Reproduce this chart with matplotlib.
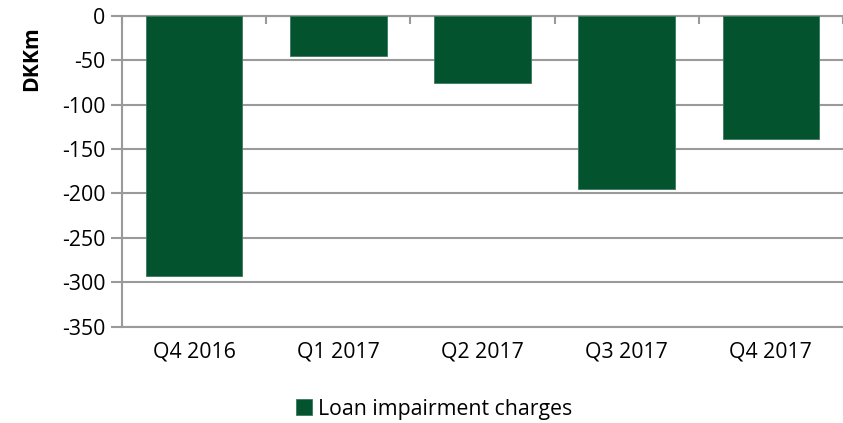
import matplotlib
matplotlib.use("Agg")
import matplotlib.pyplot as plt
import numpy as np

categories = ["Q4 2016", "Q1 2017", "Q2 2017", "Q3 2017", "Q4 2017"]
values = [-293, -45, -75, -195, -139]
series_name = "Loan impairment charges"
y_ticks = [0, -50, -100, -150, -200, -250, -300, -350]
y_label = "DKKm"

plt.rcParams['font.family'] = ['Open Sans', 'DejaVu Sans']

W, H = 843, 423
fig = plt.figure(figsize=(W / 100, H / 100), dpi=100)
ax = fig.add_axes([122 / W, 1 - 326.5 / H, (W - 122) / W, (326.5 - 16) / H])

green = "#03532F"
grid_c = "#9A9A9A"
fs = 15.3
x = np.arange(len(categories))
ax.bar(x, values, width=0.67, color=green, edgecolor="#3d7a5c", linewidth=0.6,
       label=series_name, zorder=3)

ax.set_xlim(-0.5, len(categories) - 0.5)
ax.set_ylim(-350, 0)
ax.set_yticks(y_ticks)
ax.set_yticklabels([str(v) for v in y_ticks], fontsize=fs)
ax.yaxis.grid(True, color=grid_c, linewidth=1.5, zorder=0)

ax.set_xticks(x)
ax.set_xticklabels(categories, fontsize=fs)
ax.tick_params(axis='x', which='major', length=0, pad=11)
ax.set_xticks(np.arange(len(categories) + 1) - 0.5, minor=True)
ax.tick_params(axis='x', which='minor', top=True, bottom=False, direction='in',
               length=6, width=1.5, color=grid_c)
ax.tick_params(axis='y', length=8, width=1.5, color=grid_c, pad=4)

for s in ["right"]:
    ax.spines[s].set_visible(False)
for s in ["left", "top", "bottom"]:
    ax.spines[s].set_color(grid_c)
    ax.spines[s].set_linewidth(1.5)

fig.text(32 / W, 1 - 58.5 / H, y_label, rotation=90, fontsize=fs, fontweight='bold',
         ha='center', va='center')

fig.legend(loc='center', bbox_to_anchor=(434 / W, 1 - 409 / H), frameon=False,
           fontsize=fs, handlelength=0.75, handleheight=0.75, handletextpad=0.3)

fig.savefig("out.png", dpi=100)
